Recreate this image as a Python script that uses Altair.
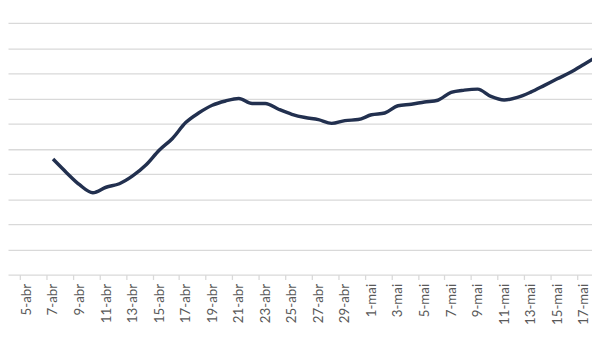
import altair as alt
import pandas as pd

# Daily series, 7-abr .. 18-mai (values in gridline units)
dates = [d.strftime("%Y-%m-%dT00:00:00") for d in pd.date_range("2020-04-07", "2020-05-18", freq="D")]
values = [
    4.59, 4.06, 3.57, 3.25, 3.47, 3.61, 3.92, 4.35, 4.94, 5.41,   # 7-abr .. 16-abr
    6.04, 6.43, 6.73, 6.90, 7.00, 6.80, 6.80, 6.57, 6.37, 6.24,   # 17-abr .. 26-abr
    6.16, 6.01, 6.12, 6.16, 6.35, 6.42, 6.71, 6.77, 6.86, 6.93,   # 27-abr .. 6-mai
    7.24, 7.33, 7.37, 7.08, 6.94, 7.04, 7.25, 7.51, 7.78, 8.04,   # 7-mai .. 16-mai
    8.35, 8.67,                                                    # 17-mai .. 18-mai
]

# Labelled days (every second day)
label_days = [(4, d) for d in range(5, 31, 2)] + [(5, d) for d in range(1, 18, 2)]
grid_values = [1, 2, 3, 4, 5, 6, 7, 8, 9, 10]

df = pd.DataFrame({"date": dates, "value": values})

DAY_PX = 13.45

x_axis = alt.Axis(
    values=[alt.DateTime(year=2020, month=m, date=d) for m, d in label_days],
    labelExpr="date(datum.value) + '-' + (month(datum.value) == 3 ? 'abr' : 'mai')",
    labelAngle=-90,
    labelAlign="right",
    labelBaseline="middle",
    labelFont="Lato",
    labelFontSize=13.5,
    labelColor="#595959",
    labelPadding=4,
    labelOverlap=False,
    labelBound=False,
    labelFlush=False,
    tickOffset=-DAY_PX / 2,
    labelOffset=DAY_PX / 2,
    tickSize=5,
    tickColor="#d9d9d9",
    tickWidth=1.3,
    domainColor="#d9d9d9",
    domainWidth=1.3,
    grid=False,
    title=None,
)

y_axis = alt.Axis(
    values=grid_values,
    labels=False,
    ticks=False,
    domain=False,
    grid=True,
    gridColor="#d9d9d9",
    gridWidth=1.3,
    title=None,
)

chart = (
    alt.Chart(df)
    .mark_line(color="#22304f", strokeWidth=3.5, interpolate="monotone", clip=True)
    .encode(
        x=alt.X(
            "date:T",
            axis=x_axis,
            scale=alt.Scale(
                domain=[
                    alt.DateTime(year=2020, month=4, date=3, hours=14, minutes=35),
                    alt.DateTime(year=2020, month=5, date=17, hours=14, minutes=53),
                ]
            ),
        ),
        y=alt.Y("value:Q", axis=y_axis, scale=alt.Scale(domain=[0, 10.51], nice=False, zero=True)),
    )
    .properties(width=592, height=268, padding=0, background="white")
    .configure_view(stroke=None)
)

chart.save("out.html", embed_options={"renderer": "svg", "actions": False})
